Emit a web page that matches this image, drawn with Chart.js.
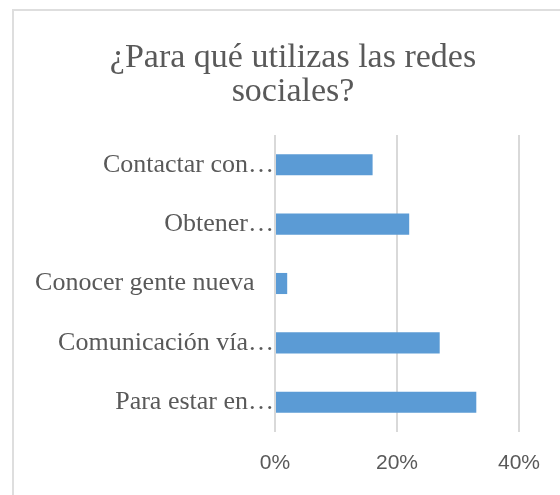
<!DOCTYPE html>
<html>
<head>
<meta charset="utf-8">
<script src="https://cdn.jsdelivr.net/npm/chart.js@4"></script>
<style>
  html, body { margin: 0; padding: 0; background: #fff; overflow: hidden; }
  body { width: 560px; height: 495px; position: relative; }
  #frame { position: absolute; left: 12px; top: 9px; width: 600px; height: 600px;
           border-left: 2px solid #dedede; border-top: 2px solid #dedede; }
  #wrap { position: absolute; left: 13px; top: 10px; width: 560px; height: 485px; }
</style>
</head>
<body>
<div id="frame"></div>
<div id="wrap"><canvas id="barChart" width="560" height="485"></canvas></div>
<script>
// Data (percent)
var categories = ['Contactar con…', 'Obtener…', 'Conocer gente nueva\u00a0\u00a0\u00a0', 'Comunicación vía…', 'Para estar en…'];
var values = [16, 22, 2, 27, 33];
var titleLines = ['¿Para qué utilizas las redes', 'sociales?'];
var xTicks = [0, 20, 40];

var ctx = document.getElementById('barChart').getContext('2d');

var chartData = {
    labels: categories,
    datasets: [
        {
            data: values,
            backgroundColor: '#5B9BD5',
            borderWidth: 0,
            barPercentage: 0.355,
            categoryPercentage: 1
        }
    ]
};

var chartOptions = {
    indexAxis: 'y',
    responsive: false,
    animation: false,
    layout: { padding: 0 },
    plugins: {
        legend: { display: false },
        tooltip: { enabled: false },
        title: {
            display: true,
            text: titleLines,
            color: '#595959',
            font: { family: 'Liberation Serif', size: 34, weight: 'normal', lineHeight: 1.0 },
            padding: { top: 31, bottom: 26 }
        }
    },
    scales: {
        x: {
            min: 0,
            max: 40,
            afterBuildTicks: function (axis) {
                axis.ticks = xTicks.map(function (v) { return { value: v }; });
            },
            afterFit: function (axis) { axis.height = 63; },
            grid: { color: '#d9d9d9', lineWidth: 2, drawTicks: false },
            border: { display: false },
            ticks: {
                padding: 19,
                color: '#595959',
                font: { family: 'Liberation Sans', size: 21 },
                callback: function (v) { return v + '%'; }
            }
        },
        y: {
            afterFit: function (axis) { axis.width = 262; },
            grid: { display: false, drawTicks: false },
            border: { display: false },
            ticks: {
                padding: 1,
                color: '#595959',
                font: { family: 'Liberation Serif', size: 26 }
            }
        },
        // empty right-hand spacer so the title stays centred on the whole frame
        spacer: {
            type: 'category',
            axis: 'y',
            position: 'right',
            afterFit: function (axis) { axis.width = 54; },
            grid: { display: false, drawTicks: false },
            border: { display: false },
            ticks: { display: false }
        }
    }
};

var barChart = new Chart(ctx, {
    type: 'bar',
    data: chartData,
    options: chartOptions
});
</script>
</body>
</html>
